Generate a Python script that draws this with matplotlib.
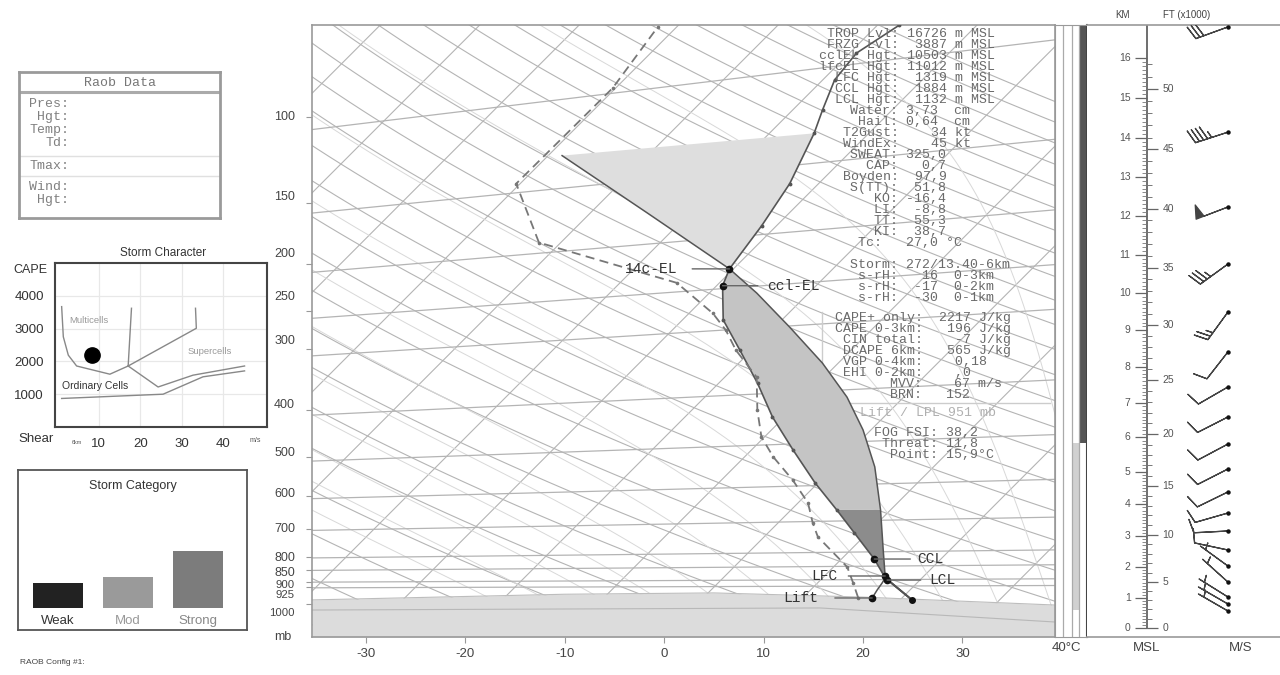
import numpy as np
import matplotlib
matplotlib.use("Agg")
import matplotlib.pyplot as plt
from matplotlib.ticker import NullLocator

plt.rcParams['font.family'] = ['Liberation Sans', 'DejaVu Sans']
plt.rcParams['axes.unicode_minus'] = False
W, H = 1280, 675
MONO = 'Liberation Mono'

# ---- sounding values (mb, deg C) ----
env_p = [981, 884, 808.5, 715, 641, 564, 483, 413, 352, 301, 261, 222, 205, 167, 137, 108, 96.7, 83.9, 73.9, 64.7]
env_t = [21.2, 16.3, 13.3, 8.7, 4.6, -0.3, -5.8, -11.2, -16.1, -21.2, -25.9, -29.4, -30.4, -31.5, -32.9, -35.5, -37.0, -38.8, -39.3, -37.8]
dew_p = [972, 906, 840, 728, 682, 620, 557, 499, 454, 400, 342, 301, 274, 253, 219, 181, 137, 87.2, 65.3]
dew_t = [15.6, 13.6, 11.4, 5.4, 3.5, 1.0, -2.8, -7.1, -10.3, -13.4, -16.8, -21.6, -24.6, -27.6, -34.3, -52.2, -60.4, -60.3, -61.9]
lift_p = [972, 936, 906, 884]
lift_t = [17.0, 16.7, 16.5, 16.3]
parcel_p = [884, 775, 641, 523, 439, 376, 320, 270, 230, 205, 157, 120]
parcel_t = [16.3, 13.3, 9.0, 4.1, -0.8, -5.7, -11.6, -18.5, -25.2, -30.4, -44.4, -58.6]
cape3_p = 641     # top of the 0-3km CAPE shading
top_p = 108       # top of the negative area above EL

# level markers: name, p, t, text offset (px), leader gap (pt)
levels = [("14c-EL", 205, -30.4, -52, 8.6),
          ("ccl-EL", 222, -29.4, 45, 5),
          ("CCL", 808.5, 13.3, 43, 3),
          ("LFC", 876, 16.1, -48, 6),
          ("LCL", 893, 16.7, 42, 4),
          ("Lift", 972, 17.0, -54, 10)]
sfc_p, sfc_t = 981, 21.2

# ground shading
gnd_x = [-35.4, -10, 5, 20, 39.3]
gnd_p = [981, 955, 949, 968, 1005]
g1000_x = [-35.4, 15.7, 39.3]
g1000_p = [1029, 1019, 1089]

# pressure labels
plev = [100, 150, 200, 250, 300, 400, 500, 600, 700, 800, 850, 900, 925, 1000]
plev_shift = [0, -6, -10, -14, -8, -5, -4, -2, 0, 1, 3, 3, 8, 9]
iso_lev = [100, 150, 200, 250, 300, 400, 500, 600, 700, 800, 850, 900, 925]

# winds (right panel)
wind_p = [65.3, 107.4, 153, 200.4, 251.5, 303.7, 358.4, 413, 469.4, 528.2, 588.8, 650.4, 708.1, 774.7, 835.6, 901.3, 967.4, 1000, 1033.7]
wind_dir = [250, 252, 249, 234, 216, 218, 240, 243, 242, 243, 244, 254, 267, 282, 306, 312, 302, 300, 300]
wind_spd = [30, 45, 50, 35, 25, 10, 10, 10, 10, 10, 10, 10, 10, 8, 5, 5, 5, 5, 5]

km_val = list(range(17))
km_p = [1119, 970.7, 840.9, 725.2, 624.2, 535.0, 454.8, 386.0, 325.6, 273.7, 230.1, 192.0, 159.7, 132.6, 110.6, 91.5, 75.8]

dark_bar = (64.7, 467)
light_bar = (467, 1029)

# storm character
sc_multi_x = [1.1, 1.5, 2.7, 4.7, 12.7, 17.1]
sc_multi_y = [3670, 2750, 2190, 1860, 1610, 1860]
sc_v1_x = [17.1, 17.9]
sc_v1_y = [1860, 3620]
sc_v2_x = [17.1, 33.5, 33.3]
sc_v2_y = [1860, 3010, 3620]
sc_sup_x = [17.1, 24.3, 32.7, 45.1]
sc_sup_y = [1860, 1220, 1580, 1860]
sc_ord_x = [1.1, 25.5, 35.1, 45.1]
sc_ord_y = [870, 1000, 1530, 1710]
storm_shear, storm_cape = 8.3, 2190

cat_names = ['Weak', 'Mod', 'Strong']
cat_vals = [25, 31, 57]
cat_cols = ['#222222', '#9a9a9a', '#7c7c7c']
cat_txt = ['#333333', '#999999', '#888888']

P_BOT, P_TOP = 1169.0, 64.7
SKEW = 48.9
XMIN, XMAX = -35.4, 39.3


def sx(t, p):
    return np.asarray(t, float) + SKEW * np.log10(P_BOT / np.asarray(p, float))


def moist(t0, ps):
    out = [t0]
    t = t0 + 273.15
    for i in range(1, len(ps)):
        p = ps[i-1]
        es = 6.112*np.exp(17.67*(t-273.15)/(t-29.65))
        rs = 0.622*es/(p-es)
        dtdp = (287.0*t + 2.5e6*rs)/(p*(1004.0 + 2.5e6**2*rs*0.622/(287.0*t*t)))
        t += dtdp*(ps[i]-p)
        out.append(t-273.15)
    return np.array(out)


fig = plt.figure(figsize=(12.8, 6.75), dpi=100)

# ================= main skew-T =================
ax = fig.add_axes([312/W, 1-637/H, 743/W, 612/H])
ax.set_yscale('log')
ax.set_ylim(P_BOT, P_TOP)
ax.set_xlim(XMIN, XMAX)
ax.yaxis.set_minor_locator(NullLocator())

GL = '#b4b4b4'
pp = np.geomspace(P_BOT, P_TOP, 80)
for t in range(-130, 50, 10):
    ax.plot(sx([t, t], [P_BOT, P_TOP]), [P_BOT, P_TOP], color=GL, lw=0.8, zorder=1)
for th in range(230, 520, 10):
    ax.plot(sx(th*(pp/1000.0)**0.2857-273.15, pp), pp, color=GL, lw=0.8, zorder=1)
pm = np.geomspace(P_BOT, P_TOP, 300)
for t0 in range(-10, 46, 5):
    ax.plot(sx(moist(t0, pm), pm), pm, color='#d8d8d8', lw=0.7, zorder=1)
xs = np.array([XMIN, XMAX])
for p0 in iso_lev:
    lp = np.log10(p0) - (xs + 25)/402.0*(np.log10(981) - np.log10(p0))
    ax.plot(xs, 10**lp, color=GL, lw=0.9, zorder=1)

ax.fill_between(gnd_x, gnd_p, P_BOT, color='#dcdcdc', zorder=2, lw=0)
ax.plot(gnd_x, gnd_p, color='#bdbdbd', lw=0.8, zorder=2)
ax.plot(g1000_x, g1000_p, color='#b8b8b8', lw=0.8, zorder=2)

env_p_a, env_t_a = np.array(env_p), np.array(env_t)
par_p_a, par_t_a = np.array(parcel_p), np.array(parcel_t)


def area(lo, hi):
    me = (env_p_a <= lo) & (env_p_a >= hi)
    mp = (par_p_a <= lo) & (par_p_a >= hi)
    xx = np.concatenate([sx(env_t_a[me], env_p_a[me]), sx(par_t_a[mp], par_p_a[mp])[::-1]])
    yy = np.concatenate([env_p_a[me], par_p_a[mp][::-1]])
    return xx, yy


xx, yy = area(884, cape3_p)
ax.fill(xx, yy, color='#8c8c8c', lw=0, zorder=3)
xx, yy = area(cape3_p, 205)
ax.fill(xx, yy, color='#c4c4c4', lw=0, zorder=3)
mp = par_p_a <= 205
me = (env_p_a <= 205) & (env_p_a >= top_p)
xx = np.concatenate([sx(par_t_a[mp], par_p_a[mp]), sx(env_t_a[me], env_p_a[me])[::-1]])
yy = np.concatenate([par_p_a[mp], env_p_a[me][::-1]])
ax.fill(xx, yy, color='#dedede', lw=0, zorder=3)

ax.plot(sx(par_t_a, par_p_a), par_p_a, color='#555555', lw=1.1, zorder=4)
ax.plot(sx(lift_t, lift_p), lift_p, color='#555555', lw=1.1, zorder=4)
ax.plot(sx([sfc_t, 16.3], [sfc_p, 884]), [sfc_p, 884], color='#333333', lw=1.4, zorder=4)
ax.plot(sx(env_t, env_p), env_p, color='#555555', lw=1.2, marker='o', ms=1.8, zorder=5)
ax.plot(sx(dew_t, dew_p), dew_p, color='#777777', lw=1.3, ls=(0, (5, 3)), marker='o', ms=1.6, zorder=5)
ax.plot(sx([sfc_t], [sfc_p]), [sfc_p], 'o', color='#111111', ms=4, zorder=6)

for name, p, t, off, gap in levels:
    ax.plot(sx([t], [p]), [p], 'o', color='#111111', ms=4.5, zorder=6)
    ax.annotate(name, xy=(float(sx(t, p)), p), xytext=(off, 0), textcoords='offset pixels',
                ha='right' if off < 0 else 'left', va='center', family=MONO, fontsize=10.5,
                color='#333333', zorder=6,
                arrowprops=dict(arrowstyle='-', color='#666666', lw=1.0, shrinkA=gap, shrinkB=0,
                                relpos=(1, 0.5) if off < 0 else (0, 0.5)))

for s in ax.spines.values():
    s.set_color('#999999')
    s.set_linewidth(1.2)
ax.set_xticks([-30, -20, -10, 0, 10, 20, 30])
ax.tick_params(axis='x', length=4, color='#999999', labelsize=9.5, labelcolor='#444444', pad=4)
ax.set_yticks(plev)
ax.set_yticklabels([])
ax.tick_params(axis='y', length=4, color='#999999')
for p, sh in zip(plev, plev_shift):
    ax.annotate(str(p), xy=(0, p), xycoords=ax.get_yaxis_transform(), xytext=(-17, -sh),
                textcoords='offset pixels', ha='right', va='center',
                fontsize=9 if p < 900 else 8.2, color='#444444')
fig.text(283/W, 1-637/H, 'mb', ha='center', va='center', fontsize=9, color='#444444')
fig.text(1066/W, 1-648/H, '40°C', ha='center', va='center', fontsize=9.5, color='#444444')

# stats text (monospace columns)
txt_col = '#6a6a6a'
X0 = 803.0
CW = 0.6 * 9.5 * 100 / 72.0
top_rows = [("TROP Lvl:", " 16726 m MSL"), ("FRZG Lvl:", "  3887 m MSL"),
            ("cclEL Hgt:", " 10503 m MSL"), ("lfcEL Hgt:", " 11012 m MSL"),
            ("LFC Hgt:", "  1319 m MSL"), ("CCL Hgt:", "  1884 m MSL"),
            ("LCL Hgt:", "  1132 m MSL"), ("Water:", " 3,73  cm"), ("Hail:", " 0,64  cm"),
            ("T2Gust:", "    34 kt"), ("WindEx:", "    45 kt"), ("SWEAT:", " 325,0"),
            ("CAP:", "   0,7"), ("Boyden:", "  97,9"), ("S(TT):", "  51,8"), ("KO:", " -16,4"),
            ("LI:", "  -8,8"), ("TT:", "  55,3"), ("KI:", "  38,7")]


def put(rows, col, y0, dy):
    for i, (lab, rest) in enumerate(rows):
        lead = col + 1 - len(lab)
        fig.text((X0 + lead*CW)/W, 1-(y0+i*dy)/H, lab + rest, family=MONO, fontsize=9.5,
                 color=txt_col, ha='left', va='center')


put(top_rows, 11, 34, 11.0)
put([("Tc:", "   27,0 °C")], 9, 243, 11)
put([("Storm:", " 272/13.40-6km"), ("s-rH:", "   16  0-3km"), ("s-rH:", "  -17  0-2km"),
     ("s-rH:", "  -30  0-1km")], 11, 265, 11)
put([("CAPE+ only:", "  2217 J/kg"), ("CAPE 0-3km:", "   196 J/kg"), ("CIN total:", "    -7 J/kg"),
     ("DCAPE 6km:", "   565 J/kg"), ("VGP 0-4km:", "    0,18"), ("EHI 0-2km:", "    ,0"),
     ("MVV:", "    67 m/s"), ("BRN:", "   152")], 14, 318, 11)
put([("FOG FSI:", " 38,2"), ("Threat:", " 11,8"), ("Point:", " 15,9°C")], 16, 433, 11)
fig.text(860/W, 1-413/H, "Lift / LPL 951 mb", family=MONO, fontsize=9.5, color='#b0b0b0', va='center')
ax.plot([0.686, 0.686, 0.993], [0.531, 0.382, 0.382], transform=ax.transAxes, color='#cccccc', lw=1, zorder=2)

# ================= strip =================
st = fig.add_axes([1055/W, 1-637/H, 32/W, 612/H])
st.set_yscale('log')
st.set_ylim(P_BOT, P_TOP)
st.set_xlim(0, 1)
st.set_xticks([])
st.set_yticks([])
st.yaxis.set_minor_locator(NullLocator())
for xv in [0.25, 0.52, 0.75]:
    st.axvline(xv, color='#aaaaaa', lw=0.9)
st.fill_betweenx(dark_bar, 0.78, 0.97, color='#555555', lw=0)
st.fill_betweenx(light_bar, 0.53, 0.75, color='#d0d0d0', lw=0)
for s in st.spines.values():
    s.set_color('#999999')
st.spines['right'].set_color('#444444')
st.spines['right'].set_linewidth(1.5)

# ================= right panel =================
rp = fig.add_axes([1087/W, 1-637/H, 193/W, 612/H])
rp.set_yscale('log')
rp.set_ylim(P_BOT, P_TOP)
rp.set_xlim(0, 1)
rp.set_xticks([])
rp.set_yticks([])
rp.yaxis.set_minor_locator(NullLocator())
rp.spines['right'].set_visible(False)
rp.spines['left'].set_visible(False)
for s in ['top', 'bottom']:
    rp.spines[s].set_color('#999999')
    rp.spines[s].set_linewidth(1.2)
AXX = 0.311
lkm = np.log10(km_p)
rp.plot([AXX, AXX], [km_p[0], P_TOP], color='#555555', lw=1.2)
kmin = np.arange(0, 16.01, 0.1)
rp.hlines(10**np.interp(kmin, km_val, lkm), AXX-0.026, AXX, color='#777777', lw=0.6)
rp.hlines(km_p, AXX-0.062, AXX, color='#666666', lw=0.9)
for k, p in zip(km_val, km_p):
    rp.text(AXX-0.085, p, str(k), ha='right', va='center', fontsize=7.5, color='#555555')
ft = np.arange(0, 53)
ft_p = 10**np.interp(ft*0.3048, km_val, lkm)
rp.hlines(ft_p, AXX, AXX+0.028, color='#777777', lw=0.7)
rp.hlines(ft_p[::5], AXX, AXX+0.057, color='#666666', lw=0.9)
for f, p in zip(ft[::5], ft_p[::5]):
    rp.text(AXX+0.08, p, str(f), ha='left', va='center', fontsize=7.5, color='#555555')
wd = np.radians(wind_dir)
u = -np.array(wind_spd)*np.sin(wd)
v = -np.array(wind_spd)*np.cos(wd)
rp.barbs(np.full(len(wind_p), 0.73), wind_p, u, v, length=7, color='#444444', lw=0.9, zorder=3)
rp.plot(np.full(len(wind_p), 0.73), wind_p, 'o', color='#111111', ms=2.2, zorder=4)
fig.text(1123/W, 1-15/H, 'KM', ha='center', va='center', fontsize=7, color='#444444')
fig.text(1187/W, 1-15/H, 'FT (x1000)', ha='center', va='center', fontsize=7, color='#444444')
fig.text(1147/W, 1-648/H, 'MSL', ha='center', va='center', fontsize=9.5, color='#444444')
fig.text(1241/W, 1-648/H, 'M/S', ha='center', va='center', fontsize=9.5, color='#444444')

# ================= Raob Data box =================
rb = fig.add_axes([19/W, 1-218/H, 201/W, 146/H])
rb.set_xlim(19, 220)
rb.set_ylim(218, 72)
rb.set_xticks([])
rb.set_yticks([])
for s in rb.spines.values():
    s.set_color('#9a9a9a')
    s.set_linewidth(2)
rb.axhline(92, color='#aaaaaa', lw=2.2)
rb.axhline(156, color='#e0e0e0', lw=1)
rb.axhline(176, color='#e0e0e0', lw=1)
rb.text(120, 83, 'Raob Data', family=MONO, fontsize=9.5, color='#777777', ha='center', va='center')
for lab, y in [('Pres:', 104), ('Hgt:', 117), ('Temp:', 130), ('Td:', 143),
               ('Tmax:', 166), ('Wind:', 187), ('Hgt:', 200)]:
    rb.text(69, y, lab, family=MONO, fontsize=9.5, color='#808080', ha='right', va='center')

# ================= Storm Character =================
sc = fig.add_axes([55/W, 1-427/H, 212/W, 164/H])
sc.set_xlim(-0.5, 50.5)
sc.set_ylim(0, 5000)
sc.set_xticks([10, 20, 30, 40])
sc.set_yticks([1000, 2000, 3000, 4000])
sc.grid(color='#e8e8e8', lw=0.9)
sc.tick_params(length=0, labelsize=9.5, labelcolor='#333333')
sc.tick_params(axis='x', pad=8)
sc.tick_params(axis='y', pad=8)
for s in sc.spines.values():
    s.set_color('#444444')
    s.set_linewidth(1.5)
for xs_, ys_ in [(sc_multi_x, sc_multi_y), (sc_v1_x, sc_v1_y), (sc_v2_x, sc_v2_y),
                 (sc_sup_x, sc_sup_y), (sc_ord_x, sc_ord_y)]:
    sc.plot(xs_, ys_, color='#888888', lw=1)
sc.plot([storm_shear], [storm_cape], 'o', color='black', ms=11)
sc.text(3, 3260, 'Multicells', fontsize=6.8, color='#9a9a9a', va='center')
sc.text(31.4, 2290, 'Supercells', fontsize=6.8, color='#9a9a9a', va='center')
sc.text(1.1, 1254, 'Ordinary Cells', fontsize=7.5, color='#333333', va='center')
fig.text(163/W, 1-253/H, 'Storm Character', ha='center', va='center', fontsize=8.5, color='#333333')
fig.text(30/W, 1-270/H, 'CAPE', ha='center', va='center', fontsize=9, color='#333333')
fig.text(18/W, 1-439/H, 'Shear', ha='left', va='center', fontsize=9.5, color='#333333')
fig.text(72/W, 1-442/H, '6km', ha='left', va='center', fontsize=4, color='#555555')
fig.text(250/W, 1-440/H, 'm/s', ha='left', va='center', fontsize=5, color='#555555')

# ================= Storm Category =================
ca = fig.add_axes([18/W, 1-630/H, 229/W, 160/H])
ca.set_xlim(0, 229)
ca.set_ylim(-22, 138)
ca.set_xticks([])
ca.set_yticks([])
for s in ca.spines.values():
    s.set_color('#555555')
    s.set_linewidth(1.3)
cx = [40, 110, 179.5]
ca.bar(cx, cat_vals, width=50, color=cat_cols)
for x_, n_, c_ in zip(cx, cat_names, cat_txt):
    ca.text(x_, -13, n_, ha='center', va='center', fontsize=9.5, color=c_)
ca.text(114.5, 122, 'Storm Category', ha='center', va='center', fontsize=9, color='#333333')

fig.text(20/W, 1-662/H, 'RAOB Config #1:', ha='left', va='center', fontsize=6, color='#444444')

fig.savefig('out.png', dpi=100)
